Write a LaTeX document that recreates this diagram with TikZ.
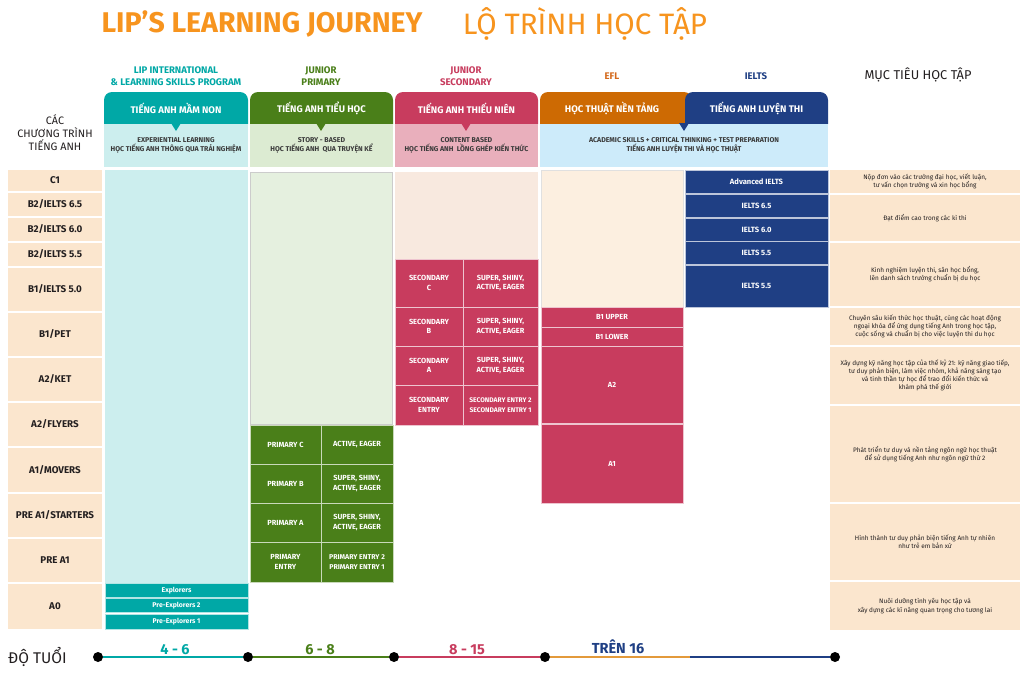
\documentclass[tikz,border=0pt]{standalone}
\usepackage{fontspec}
\setmainfont{Fira Sans}
\usepackage{xcolor}
\usetikzlibrary{positioning,calc}
\definecolor{titleorange}{HTML}{F7941E}
\definecolor{textdark}{HTML}{231F20}
\definecolor{hdtext}{HTML}{3A3A3A}
\definecolor{tealdark}{HTML}{00A8A6}
\definecolor{teallight}{HTML}{CCEEEE}
\definecolor{greendark}{HTML}{4A7F19}
\definecolor{greenhead}{HTML}{DCEBD2}
\definecolor{greencol}{HTML}{E5F0DF}
\definecolor{pinkdark}{HTML}{C83C5E}
\definecolor{pinkhead}{HTML}{E9AFBC}
\definecolor{pinkcol}{HTML}{F8E9DF}
\definecolor{orangetab}{HTML}{CD6A03}
\definecolor{efltext}{HTML}{D4691C}
\definecolor{eflline}{HTML}{E39A3B}
\definecolor{eflcol}{HTML}{FCEFE0}
\definecolor{bluedark}{HTML}{1F3F84}
\definecolor{bluelight}{HTML}{CDEBFA}
\definecolor{levelpeach}{HTML}{FBE6CE}

\tikzset{
  wh/.style 2 args = {minimum width = #1, minimum height = #2},
  cell/.style = {inner sep = 0, outer sep = 0, align = center},
  level/.style = {cell, fill = levelpeach, text = textdark, font = \bfseries\fontsize{9.8}{11}\selectfont},
  goal/.style = {cell, fill = levelpeach, text = textdark, font = \fontsize{6.45}{8.2}\selectfont},
  course/.style = {cell, draw = white!70!#1, line width = .8, fill = #1, text = white, font = \bfseries\fontsize{7.4}{9.5}\selectfont},
  prog/.style = {align = center, inner sep = 0, font = \bfseries\fontsize{9.6}{12}\selectfont},
  tabtext/.style = {inner sep = 0, text = white, font = \bfseries\fontsize{9.6}{12}\selectfont},
  headtext/.style = {cell, text = hdtext, font = \bfseries\fontsize{7}{9}\selectfont},
  agedot/.style = {circle, fill = black, inner sep = 0, minimum size = 10},
  ageline/.style = {line width = 2.5},
  agelabel/.style = {inner sep = 0, font = \bfseries\fontsize{14.5}{16}\selectfont}
}

\begin{document}
\begin{tikzpicture}[x = 1pt, y = -1pt]
\useasboundingbox[fill = white] (0,0) rectangle (1024,678);
% Titles
\node[text = titleorange, font = \bfseries\fontsize{28.5}{31}\selectfont] (titleen) at (262,24) {LIP’S LEARNING JOURNEY};
\node[text = titleorange, font = \fontsize{29.5}{31}\selectfont] (titlevn) at (585,24) {LỘ TRÌNH HỌC TẬP};
% Programs
\node[prog, text = tealdark] (progmn) at (176,76) {LIP INTERNATIONAL\\ \& LEARNING SKILLS PROGRAM};
\node[prog, text = greendark] (progtl) at (321,76) {JUNIOR\\ PRIMARY};
\node[prog, text = pinkdark] (progtn) at (466,76) {JUNIOR\\ SECONDARY};
\node[prog, text = efltext] (progefl) at (612,76) {EFL};
\node[prog, text = bluedark] (progielts) at (756,76) {IELTS};
\node[align = center, text = textdark, font = \fontsize{10.8}{13}\selectfont] (cacct) at (55,133) {CÁC\\ CHƯƠNG TRÌNH\\ TIẾNG ANH};
\node[text = textdark, font = \fontsize{12.8}{14}\selectfont] (muctieu) at (918,75) {MỤC TIÊU HỌC TẬP};
% Tabs
\fill[tealdark] (104,124) [rounded corners = 8] -- (104,92) -- (248,92) [sharp corners] -- (248,124) -- cycle;
\fill[greendark] (250,124) [rounded corners = 8] -- (250,92) -- (393,92) [sharp corners] -- (393,124) -- cycle;
\fill[pinkdark] (395,124) [rounded corners = 8] -- (395,92) -- (538,92) [sharp corners] -- (538,124) -- cycle;
\fill[orangetab] (540,124) [rounded corners = 8] -- (540,92) -- (692,92) [sharp corners] -- (692,124) -- cycle;
\fill[bluedark] (685,124) [rounded corners = 8] -- (685,92) -- (828,92) [sharp corners] -- (828,124) -- cycle;
\node[tabtext] (tabmn) at (176,108) {TIẾNG ANH MẦM NON};
\node[tabtext] (tabtl) at (321.5,108) {TIẾNG ANH TIỂU HỌC};
\node[tabtext] (tabtn) at (466.5,108) {TIẾNG ANH THIẾU NIÊN};
\node[tabtext] (tabefl) at (612,108) {HỌC THUẬT NỀN TẢNG};
\node[tabtext] (tabielts) at (756.5,108) {TIẾNG ANH LUYỆN THI};
% Approach boxes
\node[headtext, fill = teallight, wh = {144}{43}] (hdmn) at (176,145.5) {EXPERIENTIAL LEARNING\\ HỌC TIẾNG ANH THÔNG QUA TRẢI NGHIỆM};
\node[headtext, fill = greenhead, wh = {143}{43}] (hdtl) at (321.5,145.5) {STORY - BASED\\ HỌC TIẾNG ANH\ \ QUA TRUYỆN KỂ};
\node[headtext, fill = pinkhead, wh = {143}{43}] (hdtn) at (466.5,145.5) {CONTENT BASED\\ HỌC TIẾNG ANH\ \ LỒNG GHÉP KIẾN THỨC};
\node[headtext, fill = bluelight, wh = {288}{43}] (hdacad) at (684,145.5) {ACADEMIC SKILLS + CRITICAL THINKING + TEST PREPARATION\\ TIẾNG ANH LUYỆN THI VÀ HỌC THUẬT};
% Notches
\fill[tealdark] (171,123) -- (181,123) -- (176,131) -- cycle;
\fill[greendark] (316,123) -- (326,123) -- (321,131) -- cycle;
\fill[pinkdark] (461,123) -- (471,123) -- (466,131) -- cycle;
\fill[bluedark] (679,123) -- (689,123) -- (684,131) -- cycle;
% Levels
\node[level, wh = {94}{21}] (c1) at (55,180.5) {C1};
\node[level, wh = {94}{23}] (b2a) at (55,204.5) {B2/IELTS 6.5};
\node[level, wh = {94}{23}] (b2b) at (55,229.5) {B2/IELTS 6.0};
\node[level, wh = {94}{23}] (b2c) at (55,254.5) {B2/IELTS 5.5};
\node[level, wh = {94}{43}] (b1a) at (55,289.5) {B1/IELTS 5.0};
\node[level, wh = {94}{43}] (b1b) at (55,334.5) {B1/PET};
\node[level, wh = {94}{43}] (a2a) at (55,379.5) {A2/KET};
\node[level, wh = {94}{43}] (a2b) at (55,424.5) {A2/FLYERS};
\node[level, wh = {94}{44}] (a1) at (55,470) {A1/MOVERS};
\node[level, wh = {94}{43}] (prea1a) at (55,515.5) {PRE A1/STARTERS};
\node[level, wh = {94}{43}] (prea1b) at (55,560.5) {PRE A1};
\node[level, wh = {94}{45}] (a0) at (55,606.5) {A0};
% Kindergarten
\node[cell, fill = teallight, wh = {143}{413}] (colmn) at (176.5,376.5) {};
\node[course = tealdark, font = \bfseries\fontsize{6.9}{9}\selectfont, wh = {143}{14}] (explorers) at (176.5,590.5) {Explorers};
\node[course = tealdark, font = \bfseries\fontsize{6.9}{9}\selectfont, wh = {143}{14}] (preexp2) at (176.5,605.5) {Pre-Explorers 2};
\node[course = tealdark, font = \bfseries\fontsize{6.9}{9}\selectfont, wh = {143}{15}] (preexp1) at (176.5,621.5) {Pre-Explorers 1};
% Primary
\node[cell, fill = greencol, draw = black!20, wh = {142}{252}] (coltl) at (321.5,298) {};
\node[course = greendark, wh = {71}{39}] (primc) at (285.5,444.5) {PRIMARY C};
\node[course = greendark, wh = {72}{39}] (primcx) at (357,444.5) {ACTIVE, EAGER};
\node[course = greendark, wh = {71}{39}] (primb) at (285.5,483.5) {PRIMARY B};
\node[course = greendark, wh = {72}{39}] (primbx) at (357,483.5) {SUPER, SHINY,\\ ACTIVE, EAGER};
\node[course = greendark, wh = {71}{39}] (prima) at (285.5,522.5) {PRIMARY A};
\node[course = greendark, wh = {72}{39}] (primax) at (357,522.5) {SUPER, SHINY,\\ ACTIVE, EAGER};
\node[course = greendark, wh = {71}{40}] (prime) at (285.5,562) {PRIMARY\\ ENTRY};
\node[course = greendark, font = \bfseries\fontsize{7}{9.5}\selectfont, wh = {72}{40}] (primex) at (357,562) {PRIMARY ENTRY 2\\ PRIMARY ENTRY 1};
% Secondary
\node[cell, fill = pinkcol, wh = {143}{87}] (coltn) at (466.5,215.5) {};
\node[course = pinkdark, wh = {68}{48}] (secc) at (429,283) {SECONDARY\\ C};
\node[course = pinkdark, wh = {75}{48}] (seccx) at (500.5,283) {SUPER, SHINY,\\ ACTIVE, EAGER};
\node[course = pinkdark, wh = {68}{39}] (secb) at (429,326.5) {SECONDARY\\ B};
\node[course = pinkdark, wh = {75}{39}] (secbx) at (500.5,326.5) {SUPER, SHINY,\\ ACTIVE, EAGER};
\node[course = pinkdark, wh = {68}{39}] (seca) at (429,365.5) {SECONDARY\\ A};
\node[course = pinkdark, wh = {75}{39}] (secax) at (500.5,365.5) {SUPER, SHINY,\\ ACTIVE, EAGER};
\node[course = pinkdark, wh = {68}{40}] (sece) at (429,405) {SECONDARY\\ ENTRY};
\node[course = pinkdark, font = \bfseries\fontsize{6.7}{9.5}\selectfont, wh = {75}{40}] (secex) at (500.5,405) {SECONDARY ENTRY 2\\ SECONDARY ENTRY 1};
% EFL
\node[cell, fill = eflcol, draw = black!12, wh = {142}{137}] (colefl) at (612,238.5) {};
\node[course = pinkdark, wh = {142}{20}] (b1upper) at (612,317) {B1 UPPER};
\node[course = pinkdark, wh = {142}{19}] (b1lower) at (612,336.5) {B1 LOWER};
\node[course = pinkdark, wh = {142}{77}] (efla2) at (612,385) {A2};
\node[course = pinkdark, wh = {142}{79}] (efla1) at (612,463.5) {A1};
% IELTS
\node[course = bluedark, font = \bfseries\fontsize{7.6}{10}\selectfont, wh = {143}{23}] (advielts) at (756.5,181.5) {Advanced IELTS};
\node[course = bluedark, font = \bfseries\fontsize{7.6}{10}\selectfont, wh = {143}{23}] (ielts65) at (756.5,205.5) {IELTS 6.5};
\node[course = bluedark, font = \bfseries\fontsize{7.6}{10}\selectfont, wh = {143}{23}] (ielts60) at (756.5,229.5) {IELTS 6.0};
\node[course = bluedark, font = \bfseries\fontsize{7.6}{10}\selectfont, wh = {143}{23}] (ielts55a) at (756.5,253) {IELTS 5.5};
\node[course = bluedark, font = \bfseries\fontsize{7.6}{10}\selectfont, wh = {143}{42}] (ielts55b) at (756.5,286) {IELTS 5.5};
% Goals
\node[goal, wh = {190}{23}] (goal1) at (925,181.5) {Nộp đơn vào các trường đại học, viết luận,\\ tư vấn chọn trường và xin học bổng};
\node[goal, wh = {190}{46}] (goal2) at (925,218) {Đạt điểm cao trong các kì thi};
\node[goal, wh = {190}{63}] (goal3) at (925,274.5) {Kinh nghiệm luyện thi, săn học bổng,\\ lên danh sách trường chuẩn bị du học};
\node[goal, wh = {190}{37}] (goal4) at (925,326.5) {Chuyên sâu kiến thức học thuật, cùng các hoạt động\\ ngoại khóa để ứng dụng tiếng Anh trong học tập,\\ cuộc sống và chuẩn bị cho việc luyện thi du học};
\node[goal, wh = {190}{57}] (goal5) at (925,375.5) {Xây dựng kỹ năng học tập của thế kỷ 21: kỹ năng giao tiếp,\\ tư duy phản biện, làm việc nhóm, khả năng sáng tạo\\ và tinh thần tự học để trao đổi kiến thức và\\ khám phá thế giới};
\node[goal, wh = {190}{96}] (goal6) at (925,454) {Phát triển tư duy và nền tảng ngôn ngữ học thuật\\ để sử dụng tiếng Anh như ngôn ngữ thứ 2};
\node[goal, wh = {190}{76}] (goal7) at (925,542) {Hình thành tư duy phản biện tiếng Anh tự nhiên\\ như trẻ em bản xứ};
\node[goal, wh = {190}{48}] (goal8) at (925,606) {Nuôi dưỡng tình yêu học tập và\\ xây dựng các kĩ năng quan trọng cho tương lai};
% Age line
\node[text = textdark, font = \fontsize{15.5}{16}\selectfont, anchor = base] (dotuoi) at (37.5,663) {ĐỘ TUỔI};
\node[agedot] (age4) at (98,657) {};
\node[agedot] (age6) at (248,657) {};
\node[agedot] (age8) at (394,657) {};
\node[agedot] (age15) at (545,657) {};
\coordinate (agemid) at (690,657);
\node[agedot] (ageend) at (835,657) {};
\draw[ageline, tealdark] (age4) -- (age6);
\draw[ageline, greendark] (age6) -- (age8);
\draw[ageline, pinkdark] (age8) -- (age15);
\draw[ageline, eflline] (age15) -- (agemid);
\draw[ageline, bluedark] (agemid) -- (ageend);
\node[agelabel, text = tealdark, anchor = base] (lab46) at (175,654) {4 - 6};
\node[agelabel, text = greendark, anchor = base] (lab68) at (320,654) {6 - 8};
\node[agelabel, text = pinkdark, anchor = base] (lab815) at (467,654) {8 - 15};
\node[agelabel, text = bluedark, anchor = base] (lab16) at (618,653) {TRÊN 16};
\end{tikzpicture}
\end{document}
